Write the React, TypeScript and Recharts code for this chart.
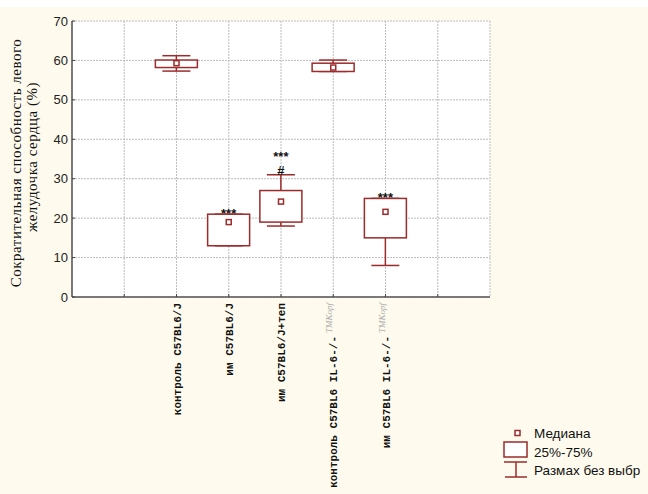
import { ComposedChart, Bar, Scatter, XAxis, YAxis, CartesianGrid, Legend } from 'recharts'

// x slots 0..8, groups sit on 2..6, 1 and 7 are empty grid columns
const positions = [2, 3, 4, 5, 6]
const categories = ['контроль C57BL6/J', 'им C57BL6/J', 'им C57BL6/J+теп', 'контроль C57BL6 IL-6-/-', 'им C57BL6 IL-6-/-']
const superscripts = ['', '', '', 'TMKopf', 'TMKopf']
const q1 = [58.2, 13, 19, 57.2, 15]
const q3 = [60.1, 21, 27, 59.3, 25]
const mins = [57.3, 13, 18, 57.2, 8]
const maxs = [61.2, 21, 31, 60.1, 25]
const medians = [59.3, 19, 24.2, 58.2, 21.6]
const stars = ['', '***', '***', '', '***']
const hashes = ['', '', '#', '', '']
const xTicks = [1, 2, 3, 4, 5, 6, 7]
const yTicks = [0, 10, 20, 30, 40, 50, 60, 70]

const RED = '#9c2b2b'
const CREAM = '#fefbee'

const data = positions.map((x, i) => ({
  x,
  box: [q1[i], q3[i]],
  range: [mins[i], maxs[i]],
  median: medians[i],
  stars: stars[i],
  hash: hashes[i],
}))

function WhiskerShape(props: any) {
  const { x, y, width, height, payload } = props
  const cx = x + width / 2
  const cap = 14
  return (
    <g>
      <line x1={cx} x2={cx} y1={y} y2={y + height} stroke={RED} strokeWidth={1.5} />
      <line x1={cx - cap} x2={cx + cap} y1={y} y2={y} stroke={RED} strokeWidth={1.5} />
      <line x1={cx - cap} x2={cx + cap} y1={y + height} y2={y + height} stroke={RED} strokeWidth={1.5} />
      {payload.hash && (
        <text x={cx} y={y + 0.5} textAnchor="middle" fontSize={13} fontWeight="bold" fontFamily="Liberation Sans" fill="#111">
          {payload.hash}
        </text>
      )}
      {payload.stars && (
        <text x={cx} y={payload.hash ? y - 13.5 : y + 3.5} textAnchor="middle" fontSize={13} fontWeight="bold" fontFamily="Liberation Sans" fill="#111">
          {payload.stars}
        </text>
      )}
    </g>
  )
}

function BoxShape(props: any) {
  const { x, y, width, height } = props
  return <rect x={x} y={y} width={width} height={height} fill="#fff" stroke={RED} strokeWidth={1.5} />
}

function MedianShape(props: any) {
  const { cx, cy } = props
  return <rect x={cx - 2.5} y={cy - 2.5} width={5} height={5} fill="#fff" stroke={RED} strokeWidth={1.5} />
}

function CategoryTick(props: any) {
  const { x, y, payload } = props
  const i = positions.indexOf(payload.value)
  if (i < 0) return <g />
  return (
    <text
      transform={`translate(${x + 4},${y}) rotate(-90)`}
      textAnchor="end"
      fontSize={11}
      fontWeight="bold"
      fontFamily="Liberation Mono"
      fill="#111"
    >
      {categories[i]}
      {superscripts[i] && (
        <tspan dx={3} dy={-5} fontSize={9} fontStyle="italic" fontWeight="normal" fontFamily="Liberation Serif" fill="#aaa">
          {superscripts[i]}
        </tspan>
      )}
    </text>
  )
}

function YLabel(props: any) {
  const vb = props.viewBox || { x: 0, y: 21, height: 276 }
  const cy = vb.y + vb.height / 2
  const common = {
    fontSize: 15,
    letterSpacing: 0.5,
    fontFamily: 'Liberation Serif',
    fill: '#111',
    textAnchor: 'middle' as const,
  }
  return (
    <g>
      <text transform={`translate(21,${cy + 4}) rotate(-90)`} {...common}>
        Сократительная способность левого
      </text>
      <text transform={`translate(37,${cy - 2}) rotate(-90)`} {...common}>
        желудочка сердца (%)
      </text>
    </g>
  )
}

function LegendBox() {
  const ox = 500
  const oy = 425
  const t = { fontSize: 13.5, fontFamily: 'Liberation Sans', fill: '#111' }
  return (
    <svg width={148} height={60} style={{ display: 'block' }}>
      <g transform={`translate(${-ox},${-oy})`}>
        <rect x={515} y={430.5} width={5} height={5} fill="#fff" stroke={RED} strokeWidth={1.5} />
        <text x={534} y={438} {...t}>Медиана</text>
        <rect x={504} y={442} width={23} height={15} fill="#fff" stroke={RED} strokeWidth={1.5} />
        <text x={534} y={457} {...t}>25%-75%</text>
        <line x1={504} x2={527} y1={462} y2={462} stroke={RED} strokeWidth={1.5} />
        <line x1={516} x2={516} y1={462} y2={477} stroke={RED} strokeWidth={1.5} />
        <line x1={505} x2={527} y1={477} y2={477} stroke={RED} strokeWidth={1.5} />
        <text x={534} y={475} {...t}>Размах без выбр</text>
      </g>
    </svg>
  )
}

export default function App() {
  const axisLine = { stroke: '#555', strokeWidth: 1.5 }
  const tickLine = { stroke: '#444' }
  return (
    <div
      style={{
        width: 648,
        height: 494,
        position: 'relative',
        overflow: 'hidden',
        background: `linear-gradient(#fff 0, #fff 7px, ${CREAM} 7px)`,
      }}
    >
      <style>{'body{margin:0}'}</style>
      <ComposedChart width={648} height={494} data={data} margin={{ top: 21, right: 158, bottom: 0, left: 0 }}>
        <CartesianGrid xAxisId="b" yAxisId="l" fill="#fff" stroke="#bdbdbd" strokeDasharray="2 1" />
        <XAxis
          xAxisId="b"
          dataKey="x"
          type="number"
          domain={[0, 8]}
          ticks={xTicks}
          allowDataOverflow
          height={197}
          axisLine={axisLine}
          tickLine={tickLine}
          tickSize={-3}
          tickMargin={9}
          interval={0}
          tick={<CategoryTick />}
        />
        <XAxis xAxisId="w" dataKey="x" type="number" domain={[0, 8]} ticks={xTicks} allowDataOverflow hide />
        <XAxis
          xAxisId="t"
          orientation="top"
          dataKey="x"
          type="number"
          domain={[0, 8]}
          ticks={xTicks}
          allowDataOverflow
          height={0}
          axisLine={axisLine}
          tickLine={tickLine}
          tickSize={-3}
          tick={() => <g />}
        />
        <YAxis
          yAxisId="l"
          type="number"
          domain={[0, 70]}
          ticks={yTicks}
          width={72}
          axisLine={axisLine}
          tickLine={tickLine}
          tickSize={-3}
          tickMargin={7}
          tick={{ fontSize: 13, fontFamily: 'Liberation Sans', fill: '#222' }}
          label={<YLabel />}
        />
        <YAxis
          yAxisId="r"
          orientation="right"
          type="number"
          domain={[0, 70]}
          ticks={yTicks}
          width={0}
          axisLine={axisLine}
          tickLine={tickLine}
          tickSize={-3}
          tick={() => <g />}
        />
        <Bar xAxisId="w" yAxisId="l" dataKey="range" barSize={42} shape={<WhiskerShape />} isAnimationActive={false} />
        <Bar xAxisId="b" yAxisId="l" dataKey="box" barSize={42} shape={<BoxShape />} isAnimationActive={false} />
        <Scatter xAxisId="b" yAxisId="l" dataKey="median" shape={<MedianShape />} isAnimationActive={false} />
        <Legend
          layout="vertical"
          align="center"
          verticalAlign="middle"
          content={() => <LegendBox />}
          wrapperStyle={{ position: 'absolute', left: 500, top: 425, width: 148, height: 60 }}
        />
      </ComposedChart>
    </div>
  )
}
